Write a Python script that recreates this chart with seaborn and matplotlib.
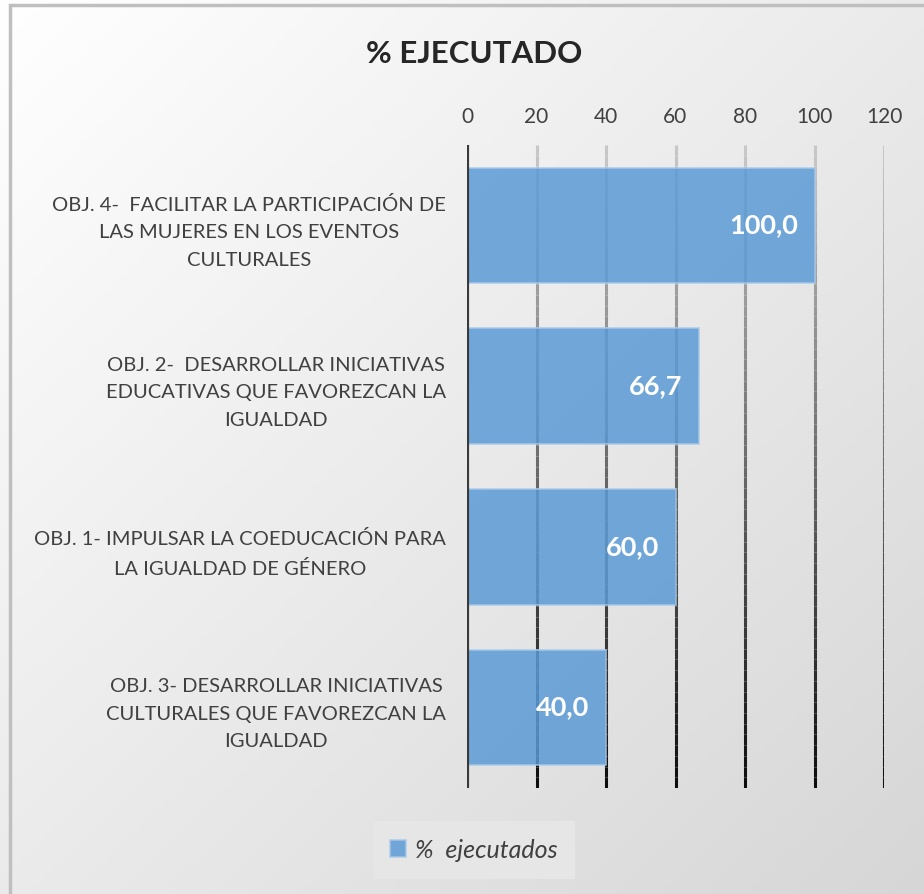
import numpy as np
import pandas as pd
import matplotlib
matplotlib.use("Agg")
import matplotlib.pyplot as plt
import seaborn as sns
from matplotlib.patches import Rectangle

categories = [
    "OBJ. 4-  FACILITAR LA PARTICIPACIÓN DE\nLAS MUJERES EN LOS EVENTOS\nCULTURALES",
    "OBJ. 2-  DESARROLLAR INICIATIVAS\nEDUCATIVAS QUE FAVOREZCAN LA\nIGUALDAD",
    "OBJ. 1- IMPULSAR LA COEDUCACIÓN PARA\nLA IGUALDAD DE GÉNERO",
    "OBJ. 3- DESARROLLAR INICIATIVAS\nCULTURALES QUE FAVOREZCAN LA\nIGUALDAD",
]
values = [100.0, 66.7, 60.0, 40.0]
value_labels = ["100,0", "66,7", "60,0", "40,0"]
xticks = [0, 20, 40, 60, 80, 100, 120]
title = "% EJECUTADO"
series_name = "%  ejecutados"

sns.set_theme(style="white")
plt.rcParams["font.family"] = ["Lato", "DejaVu Sans"]

W, H, DPI = 924, 894, 100
fig = plt.figure(figsize=(W / DPI, H / DPI), dpi=DPI)

# background gradient
bg = fig.add_axes([0, 0, 1, 1], zorder=-10)
yy, xx = np.mgrid[0:1:200j, 0:1:200j]
t = (xx + yy) / 2.0
g = 1.0 - 0.16 * t
img = np.dstack([g, g, g])
bg.imshow(img, extent=[0, 1, 0, 1], origin="upper", aspect="auto")
bg.add_patch(Rectangle((10 / W, -0.1), 2, 1 - 5 / H + 0.1, fill=False,
                       edgecolor="#bfbfbf", linewidth=2.5, transform=bg.transAxes))
bg.set_axis_off()

ax = fig.add_axes([467 / W, 1 - 788 / H, (884 - 467) / W, (788 - 145) / H])
ax.patch.set_alpha(0)

df = pd.DataFrame({"cat": categories, "val": values})
sns.barplot(data=df, x="val", y="cat", orient="h", ax=ax, color="#5B9BD5",
            alpha=0.85, width=0.72, edgecolor="#a9c9e8", linewidth=1.2,
            label=series_name, zorder=3, saturation=1)

ax.set_xlim(0, 120)
ax.set_ylim(3.5, -0.5)
ax.set_xticks(xticks)
ax.set_xticklabels([str(v) for v in xticks])
ax.xaxis.tick_top()
ax.tick_params(axis="x", length=0, pad=13, labelsize=15, labelcolor="#404040")
ax.tick_params(axis="y", length=0, pad=15, labelsize=14.5, labelcolor="#404040")
for lab in ax.get_yticklabels():
    lab.set_multialignment("center")
    lab.set_linespacing(1.75)
ax.set_xlabel("")
ax.set_ylabel("")
for s in ax.spines.values():
    s.set_visible(False)

# gradient gridlines
n = 60
edges = np.linspace(1, 0, n + 1)
for i in range(n):
    f = i / (n - 1)
    c = (0.78 * (1 - f) + 0.05 * f,) * 3
    for xv in xticks[1:]:
        ax.vlines(xv, edges[i + 1], edges[i], colors=[c], linewidth=2.2,
                  transform=ax.get_xaxis_transform(), zorder=2)
ax.vlines(0, 0, 1, colors="#3a3a3a", linewidth=3, transform=ax.get_xaxis_transform(), zorder=4)

for i, (v, lab) in enumerate(zip(values, value_labels)):
    ax.annotate(lab, xy=(v, i), xytext=(-12, 0), textcoords="offset points",
                ha="right", va="center", color="white", fontsize=19.5,
                fontweight="bold", zorder=5)

fig.text(474 / W, 1 - 54 / H, title, ha="center", va="center", fontsize=22.5,
         fontweight="bold", color="#262626")

leg = ax.legend(loc="center", bbox_to_anchor=(474 / W, 1 - 850 / H),
                bbox_transform=fig.transFigure, frameon=True, fancybox=False,
                handlelength=0.65, handleheight=0.65, handletextpad=0.35,
                prop={"style": "italic", "size": 18}, borderpad=0.7)
leg.get_frame().set_facecolor("#e6e6e6")
leg.get_frame().set_edgecolor("none")
leg.get_frame().set_alpha(1)
for tx in leg.get_texts():
    tx.set_color("#404040")

fig.savefig("out.png", dpi=DPI)
